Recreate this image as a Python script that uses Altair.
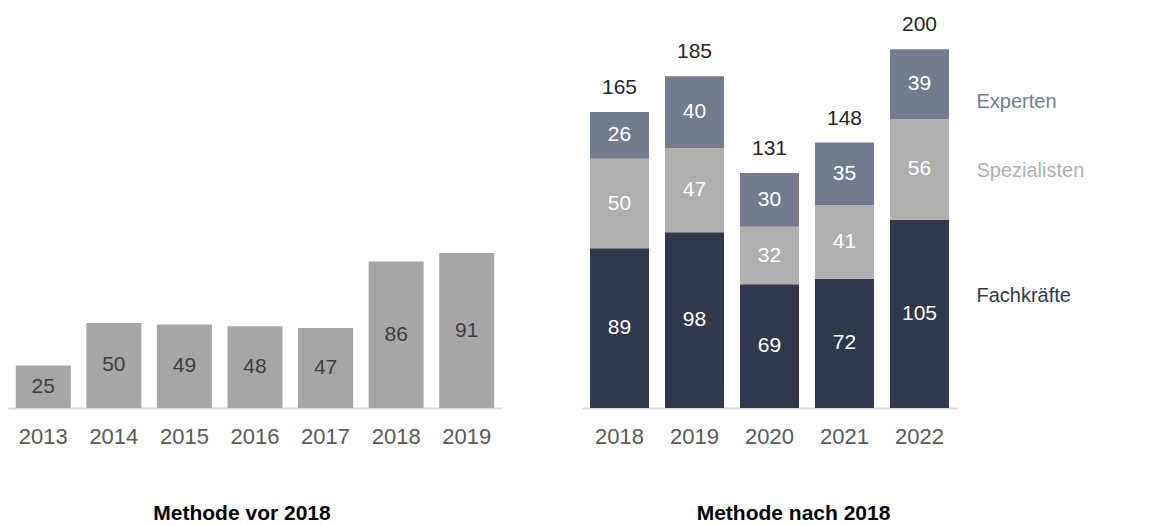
import altair as alt
import pandas as pd

FONT = "Liberation Sans"

# ---- data ----
years_old = ["2013", "2014", "2015", "2016", "2017", "2018", "2019"]
values_old = [25, 50, 49, 48, 47, 86, 91]

years_new = ["2018", "2019", "2020", "2021", "2022"]
fachkraefte = [89, 98, 69, 72, 105]
spezialisten = [50, 47, 32, 41, 56]
experten = [26, 40, 30, 35, 39]
totals = [165, 185, 131, 148, 200]

series = ["Fachkräfte", "Spezialisten", "Experten"]
colors = ["#30384d", "#afafaf", "#737b8e"]

# ---- tables ----
df_old = pd.DataFrame({"year": years_old, "value": values_old})
df_old["mid"] = df_old["value"] / 2

rows = []
for i, y in enumerate(years_new):
    start = 0
    for k, (s, vals) in enumerate(zip(series, [fachkraefte, spezialisten, experten])):
        v = vals[i]
        rows.append({"year": y, "series": s, "value": v, "start": start,
                     "end": start + v, "mid": start + v / 2, "ord": k})
        start += v
df_new = pd.DataFrame(rows)
df_tot = pd.DataFrame({"year": years_new, "total": totals})

axis_x = dict(title=None, labelFontSize=22, labelColor="#595959", labelFont=FONT,
              ticks=False, tickSize=0, labelPadding=18, domainColor="#d9d9d9",
              domainWidth=2, labelAngle=0, grid=False)

# ---- left panel ----
xl = alt.X("year:N", sort=years_old,
           scale=alt.Scale(paddingInner=0.22, paddingOuter=0.11),
           axis=alt.Axis(**axis_x))
yl_scale = alt.Scale(domain=[0, 235], nice=False)
base_l = alt.Chart(df_old).encode(x=xl)
bars_l = base_l.mark_bar(color="#a6a6a6").encode(
    y=alt.Y("value:Q", scale=yl_scale, axis=None))
text_l = base_l.mark_text(font=FONT, fontSize=21, color="#404040").encode(
    y=alt.Y("mid:Q", scale=yl_scale, axis=None), text="value:Q")
left = alt.layer(bars_l, text_l).properties(
    width=494, height=400,
    title=alt.TitleParams("Methode vor 2018", orient="bottom", fontSize=21,
                          fontWeight="bold", font=FONT, color="#000000",
                          dx=-13, offset=56, frame="group"))

# ---- right panel ----
xr = alt.X("year:N", sort=years_new,
           scale=alt.Scale(paddingInner=0.213, paddingOuter=0.107),
           axis=alt.Axis(**axis_x))
yr_scale = alt.Scale(domain=[0, 223], nice=False)
color = alt.Color("series:N", scale=alt.Scale(domain=series, range=colors), legend=None)

bars_r = alt.Chart(df_new).mark_bar().encode(
    x=xr, y=alt.Y("start:Q", scale=yr_scale, axis=None), y2="end:Q", color=color)
text_r = alt.Chart(df_new).mark_text(font=FONT, fontSize=21, color="#ffffff").encode(
    x=xr, y=alt.Y("mid:Q", scale=yr_scale, axis=None), text="value:Q")
tot_r = alt.Chart(df_tot).mark_text(font=FONT, fontSize=21, color="#262626", dy=-24).encode(
    x=xr, y=alt.Y("total:Q", scale=yr_scale, axis=None), text="total:Q")

leg_layers = []
for s, dy in zip(series, [-18, 2, 18]):
    leg_layers.append(
        alt.Chart(df_new).transform_filter(
            (alt.datum.year == years_new[-1]) & (alt.datum.series == s)
        ).mark_text(font=FONT, fontSize=20, align="left", dx=57, dy=dy).encode(
            x=xr, y=alt.Y("mid:Q", scale=yr_scale, axis=None), text="series:N", color=color)
    )

right = alt.layer(bars_r, text_r, tot_r, *leg_layers).properties(
    width=375, height=400,
    title=alt.TitleParams("Methode nach 2018", orient="bottom", fontSize=21,
                          fontWeight="bold", font=FONT, color="#000000",
                          dx=24, offset=56, frame="group"))

chart = alt.hconcat(left, right, spacing=80).properties(padding=0).configure_view(stroke=None)

chart.save("out.html", embed_options={"renderer": "svg", "actions": False})
